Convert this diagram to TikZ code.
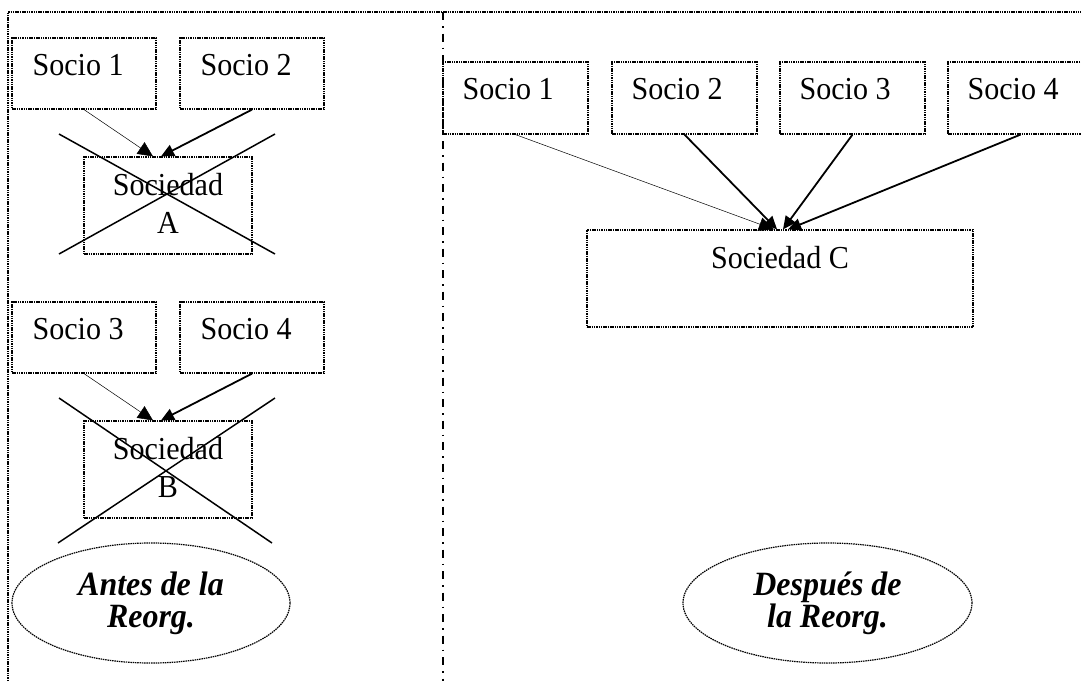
\documentclass[tikz,border=0pt]{standalone}
\usepackage{fontspec}
\setmainfont{Liberation Serif}[FakeStretch=0.94]
\usetikzlibrary{shapes.geometric,arrows.meta,calc}
\begin{document}
\begin{tikzpicture}[x=1pt,y=-1pt,
  dotline/.style={line width=1.2pt,dash pattern=on 1.5pt off 0.8pt},
  boxnode/.style={draw,dotline,rectangle,inner sep=0pt,minimum width=#1},
  lbl/.style={inner sep=0pt,font=\fontsize{32}{38}\selectfont},
  oval/.style={draw,dotline,ellipse,inner sep=0pt,minimum height=120pt,align=center,
    font=\fontsize{34}{32}\selectfont\bfseries\itshape},
  cross/.style={line width=1.5pt},
  thinarrow/.style={line width=0.5pt,-{Triangle[length=15pt,width=14pt]}},
  thickarrow/.style={line width=1.8pt,-{Triangle[length=13pt,width=12pt]}},
  frame/.style={dotline},
  divider/.style={line width=1.2pt,dash pattern=on 8pt off 6pt on 1.5pt off 6pt}]
\useasboundingbox (0,0) rectangle (1081,681);
% frame
\coordinate (ftl) at (8,12);
\coordinate (fbl) at (8,681);
\coordinate (ftr) at (1081,12);
\coordinate (dtop) at (443,12);
\coordinate (dbot) at (443,681);
\draw[frame] (fbl) -- (ftl) -- (ftr);
\draw[divider] (dtop) -- (dbot);
% left: before
\node[boxnode=144pt,minimum height=71pt] (ls1) at (84,73.5) {};
\node[boxnode=144pt,minimum height=71pt] (ls2) at (252,73.5) {};
\node[lbl,anchor=base west] (ls1t) at ($(ls1.north west)+(21,38)$) {Socio 1};
\node[lbl,anchor=base west] (ls2t) at ($(ls2.north west)+(21,38)$) {Socio 2};
\node[boxnode=168pt,minimum height=97pt] (socA) at (168,205.5) {};
\node[lbl,align=center,anchor=north] (socAt) at ($(socA.north)+(0,17)$) {Sociedad\\A};
\coordinate (xa1) at (59,134);
\coordinate (xa2) at (275,254);
\coordinate (xa3) at (275,134);
\coordinate (xa4) at (59,254);
\draw[cross] (xa1) -- (xa2);
\draw[cross] (xa3) -- (xa4);
\draw[thinarrow] (ls1.south) -- ($(socA.north)+(-15,0)$);
\draw[thickarrow] (ls2.south) -- ($(socA.north)+(-7,0)$);

\node[boxnode=144pt,minimum height=71pt] (ls3) at (84,337.5) {};
\node[boxnode=144pt,minimum height=71pt] (ls4) at (252,337.5) {};
\node[lbl,anchor=base west] (ls3t) at ($(ls3.north west)+(21,38)$) {Socio 3};
\node[lbl,anchor=base west] (ls4t) at ($(ls4.north west)+(21,38)$) {Socio 4};
\node[boxnode=168pt,minimum height=97pt] (socB) at (168,469.5) {};
\node[lbl,align=center,anchor=north] (socBt) at ($(socB.north)+(0,17)$) {Sociedad\\B};
\coordinate (xb1) at (59,398);
\coordinate (xb2) at (272,543);
\coordinate (xb3) at (275,398);
\coordinate (xb4) at (58,543);
\draw[cross] (xb1) -- (xb2);
\draw[cross] (xb3) -- (xb4);
\draw[thinarrow] (ls3.south) -- ($(socB.north)+(-15,0)$);
\draw[thickarrow] (ls4.south) -- ($(socB.north)+(-7,0)$);

\node[oval,minimum width=278pt] (antes) at (151,603) {Antes de la\\Reorg.};

% right: after
\node[boxnode=145pt,minimum height=72pt] (rs1) at (515.5,98) {};
\node[boxnode=145pt,minimum height=72pt] (rs2) at (684.5,98) {};
\node[boxnode=145pt,minimum height=72pt] (rs3) at (852.5,98) {};
\node[boxnode=145pt,minimum height=72pt] (rs4) at (1020.5,98) {};
\node[lbl,anchor=base west] (rs1t) at ($(rs1.north west)+(20,38)$) {Socio 1};
\node[lbl,anchor=base west] (rs2t) at ($(rs2.north west)+(20,38)$) {Socio 2};
\node[lbl,anchor=base west] (rs3t) at ($(rs3.north west)+(20,38)$) {Socio 3};
\node[lbl,anchor=base west] (rs4t) at ($(rs4.north west)+(20,38)$) {Socio 4};
\node[boxnode=386pt,minimum height=97pt] (socC) at (780,278.5) {};
\node[lbl,anchor=base] (socCt) at ($(socC.north)+(0,39)$) {Sociedad C};
\draw[thinarrow] (rs1.south) -- ($(socC.north)+(-6,0)$);
\draw[thickarrow] (rs2.south) -- ($(socC.north)+(-3,0)$);
\draw[thickarrow] (rs3.south) -- ($(socC.north)+(3,0)$);
\draw[thickarrow] (rs4.south) -- ($(socC.north)+(8,0)$);

\node[oval,minimum width=289pt] (despues) at (827.5,603) {Después de\\la Reorg.};
\end{tikzpicture}
\end{document}
